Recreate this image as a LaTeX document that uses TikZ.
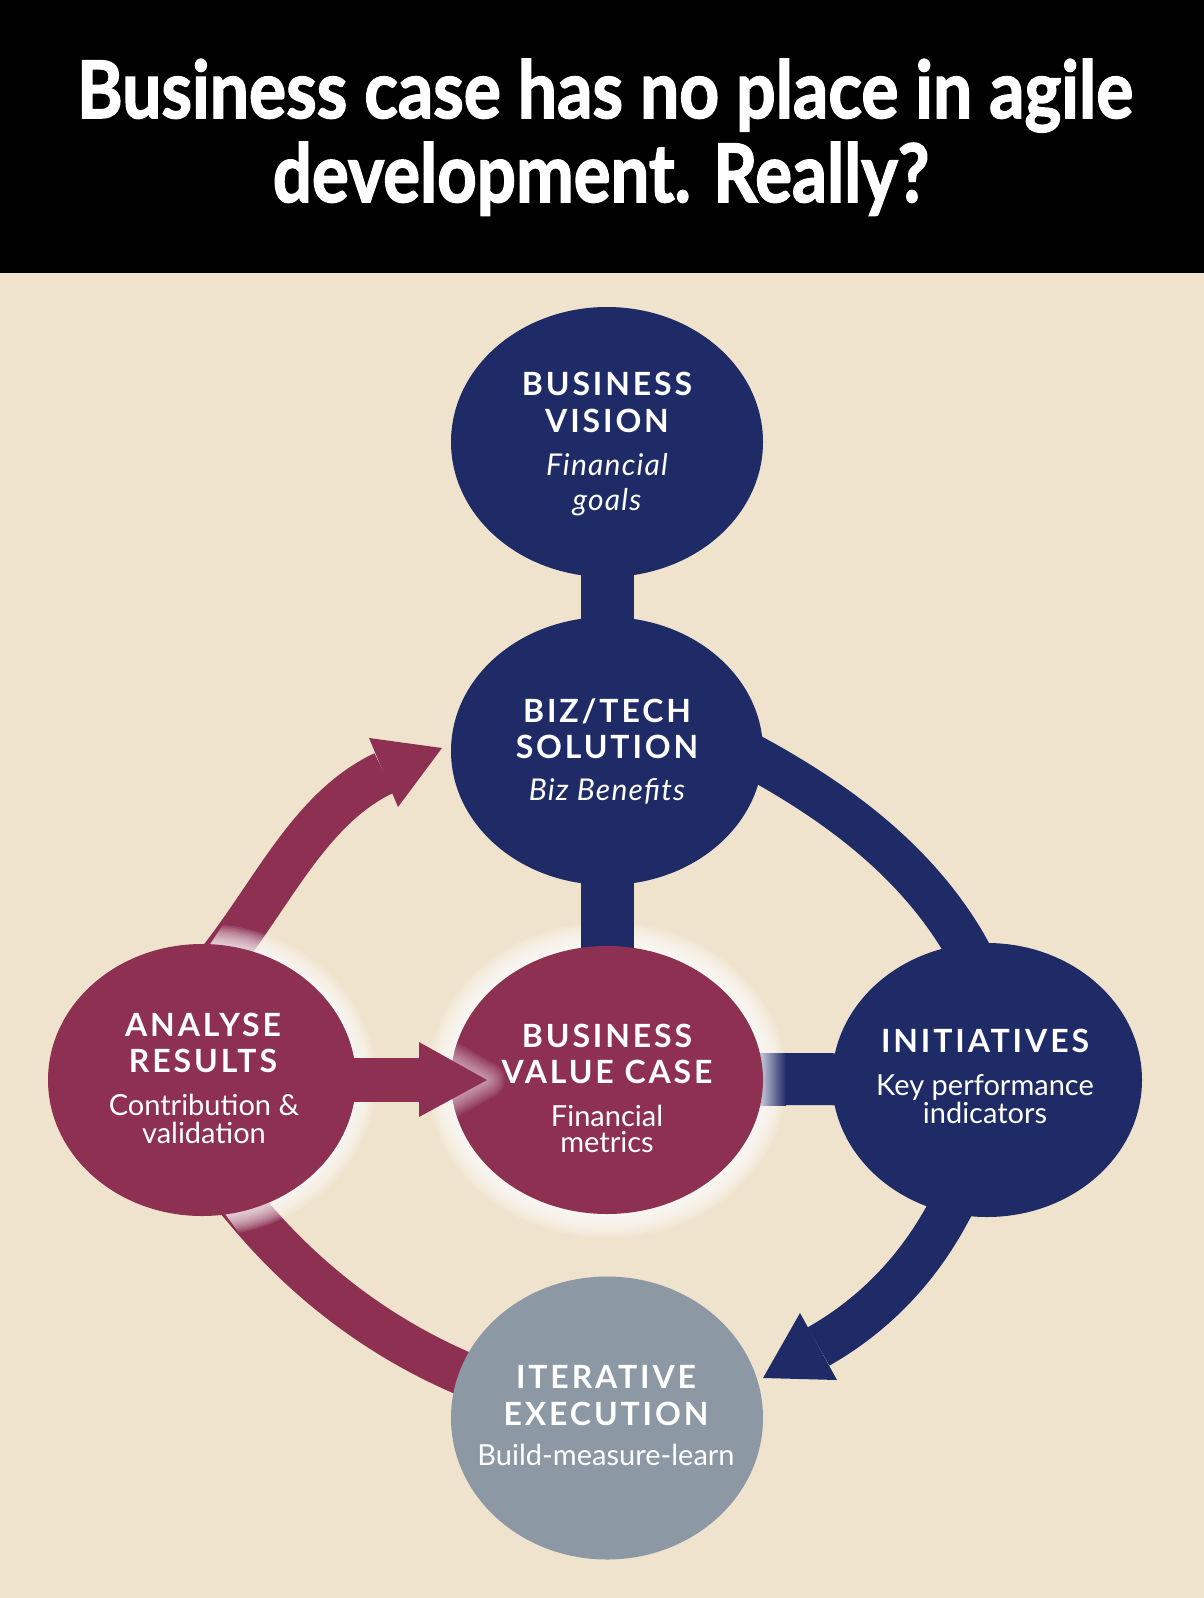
\documentclass[tikz,border=0pt]{standalone}
\usepackage{fontspec}
\usepackage{graphicx}
\setmainfont{Lato}
\newfontfamily\capsfont[LetterSpace=9]{Lato}
\newfontfamily\itfont[LetterSpace=4]{Lato}
\newfontfamily\titlefont[FakeBold=2]{Lato}
\usetikzlibrary{shapes.geometric}
\definecolor{navy}{RGB}{31,43,103}
\definecolor{wine}{RGB}{142,48,82}
\definecolor{slate}{RGB}{141,152,165}
\definecolor{sand}{RGB}{240,227,205}
\pgfdeclarelayer{paper}
\pgfdeclarelayer{arcs}
\pgfdeclarelayer{glow}
\pgfdeclarelayer{bars}
\pgfsetlayers{paper,arcs,glow,bars,main}
\begin{document}
\begin{tikzpicture}[x=1pt,y=-1pt,
  blob/.style={ellipse, inner sep=0pt, outer sep=0pt, minimum width=312pt, minimum height=270pt},
  capline/.style={anchor=base, text=white, inner sep=0pt, font=\capsfont\bfseries\fontsize{32}{32}\selectfont},
  subline/.style={anchor=base, text=white, inner sep=0pt, font=\fontsize{29}{29}\selectfont},
  itline/.style={anchor=base, text=white, inner sep=0pt, font=\itfont\itshape\fontsize{30}{30}\selectfont},
  band/.style={line width=44pt, line cap=butt}]
\useasboundingbox (0,0) rectangle (1204,1598);
\begin{pgfonlayer}{paper}
\fill[black] (0,0) rectangle (1204,273);
\fill[sand] (0,273) rectangle (1204,1598);
\end{pgfonlayer}
\node[anchor=base, text=white, inner sep=0pt] (t1) at (605,118) {\resizebox{1056pt}{59pt}{\titlefont\bfseries Business case has no place in agile}};
\node[anchor=base, text=white, inner sep=0pt] (t2) at (601,202) {\resizebox{656pt}{60pt}{\titlefont\bfseries development. Really?}};
% circles
\node[blob, fill=navy, minimum height=270pt] (vis) at (607,442) {};
\node[blob, fill=navy, minimum height=268pt] (biz) at (607,751) {};
\node[blob, fill=wine, minimum height=268pt] (bvc) at (607,1080) {};
\node[blob, fill=wine, minimum width=308pt, minimum height=272pt] (anl) at (202,1080) {};
\node[blob, fill=navy, minimum width=310pt, minimum height=274pt] (ini) at (987,1080) {};
\node[blob, fill=slate, minimum height=283pt] (itr) at (607,1418) {};
% arcs
\begin{pgfonlayer}{arcs}
\coordinate (a1s) at (222,957); \coordinate (a1m) at (231,945); \coordinate (a1e) at (384,773);
\draw[wine, band] (a1s) -- (a1m) .. controls (279,880) and (316,805) .. (a1e);
\coordinate (a2s) at (737,748); \coordinate (a2m) at (759,760); \coordinate (a2n) at (965,945); \coordinate (a2e) at (977,967);
\draw[navy, band] (a2s) -- (a2m) .. controls (842,806) and (917,863) .. (a2n) -- (a2e);
\coordinate (a3s) at (961,1189); \coordinate (a3m) at (949,1211); \coordinate (a3e) at (818.5,1346.5);
\draw[navy, band] (a3s) -- (a3m) .. controls (918.5,1268.4) and (875,1314.4) .. (a3e);
\coordinate (a4s) at (231,1192); \coordinate (a4m) at (247,1211); \coordinate (a4n) at (462,1373); \coordinate (a4e) at (485,1383);
\draw[wine, band] (a4s) -- (a4m) .. controls (306,1281.5) and (377.6,1336.3) .. (a4n) -- (a4e);
\end{pgfonlayer}
% glows
\begin{pgfonlayer}{glow}
\begin{scope}
\clip (203,955) -- (248,887) -- (430,887) -- (430,1270) -- (266,1270) -- (215,1200) -- cycle;
\foreach \k in {1,...,12}
  \fill[white, fill opacity=0.11] (anl.center) ellipse [x radius={154+1.7*\k}, y radius={136+1.7*\k}];
\end{scope}
\foreach \k in {1,...,12}
  \fill[white, fill opacity=0.12] (bvc.center) ellipse [x radius={156+2*\k}, y radius={134+2*\k}];
\end{pgfonlayer}
% bars
\begin{pgfonlayer}{bars}
\draw[navy, line width=53pt] (vis.center) -- (biz.center);
\draw[navy, line width=53pt] (biz.center) -- (bvc.center);
\coordinate (hs) at (785,1079);
\draw[navy, line width=52pt] (hs) -- (ini.center);
\shade[left color=navy!25!white, right color=navy] (760,1053) rectangle (786,1105);
\end{pgfonlayer}
% arrow heads
\coordinate (h1a) at (369,738); \coordinate (h1t) at (442,748); \coordinate (h1b) at (398,807);
\fill[wine] (h1a) -- (h1t) -- (h1b) -- cycle;
\coordinate (h3a) at (800,1313); \coordinate (h3t) at (763,1378); \coordinate (h3b) at (837,1380);
\fill[navy] (h3a) -- (h3t) -- (h3b) -- cycle;
% straight arrow analyse -> value case
\coordinate (h2s) at (419,1080); \coordinate (h2a) at (419,1042); \coordinate (h2t) at (487,1080); \coordinate (h2b) at (419,1117);
\begin{scope}
\clip (bvc.center) ellipse [x radius=156, y radius=134];
\foreach \w in {36,32,...,4}
  \draw[white, opacity=0.07, line width=\w pt, line join=round] (h2a) -- (h2t) -- (h2b);
\end{scope}
\draw[wine, line width=44pt] (anl.center) -- (h2s);
\fill[wine] (h2a) -- (h2t) -- (h2b) -- cycle;
% texts
\node[capline] (v1) at (607,395) {BUSINESS};
\node[capline] (v2) at (607,432) {VISION};
\node[itline] (v3) at (607,475) {Financial};
\node[itline] (v4) at (607,510) {goals};
\node[capline] (b1) at (607,722) {BIZ/TECH};
\node[capline] (b2) at (607,758) {SOLUTION};
\node[itline] (b3) at (607,800) {Biz Benefits};
\node[capline] (c1) at (607,1047) {BUSINESS};
\node[capline] (c2) at (607,1083) {VALUE CASE};
\node[subline] (c3) at (607,1126) {Financial};
\node[subline] (c4) at (607,1152) {metrics};
\node[capline] (r1) at (203,1036) {ANALYSE};
\node[capline] (r2) at (203,1072) {RESULTS};
\node[subline] (r3) at (204,1115) {Contribution \&};
\node[subline] (r4) at (204,1143) {validation};
\node[capline] (i1) at (985,1052) {INITIATIVES};
\node[subline] (i2) at (985,1095) {Key performance};
\node[subline] (i3) at (985,1123) {indicators};
\node[capline] (e1) at (606,1388) {ITERATIVE};
\node[capline] (e2) at (606,1425) {EXECUTION};
\node[subline] (e3) at (606,1465) {Build-measure-learn};
\end{tikzpicture}
\end{document}
